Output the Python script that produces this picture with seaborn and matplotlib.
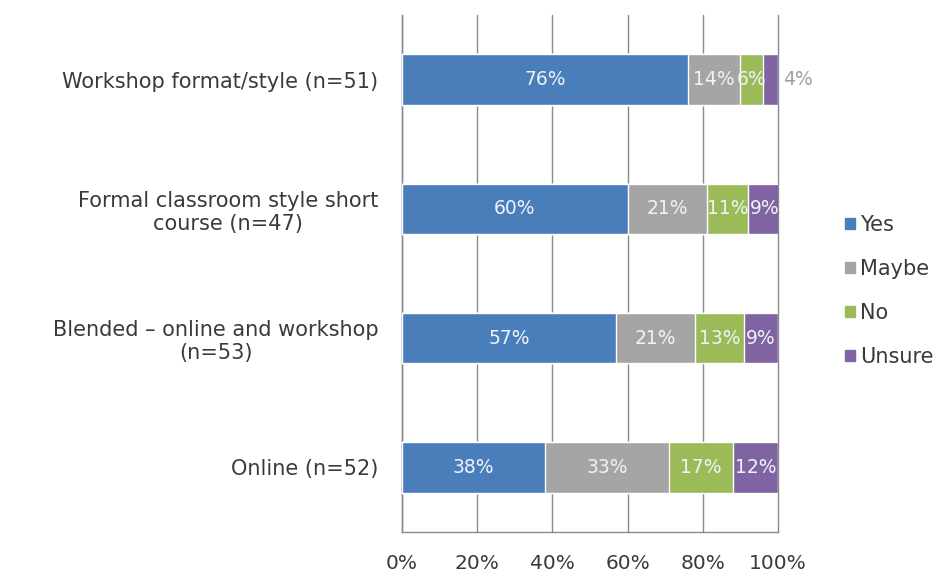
import matplotlib
matplotlib.use("Agg")
import matplotlib.pyplot as plt
import matplotlib.patches as mpatches
import seaborn as sns
import pandas as pd
import numpy as np

# Survey responses: preferred training delivery formats
categories = [
    "Workshop format/style (n=51)",
    "Formal classroom style short\ncourse (n=47)",
    "Blended \u2013 online and workshop\n(n=53)",
    "Online (n=52)",
]
responses = ["Yes", "Maybe", "No", "Unsure"]
yes = [76, 60, 57, 38]
maybe = [14, 21, 21, 33]
no = [6, 11, 13, 17]
unsure = [4, 9, 9, 12]
x_ticks = [0, 20, 40, 60, 80, 100]
x_tick_labels = ["0%", "20%", "40%", "60%", "80%", "100%"]

colors = {"Yes": "#4A7EBB", "Maybe": "#A5A5A5", "No": "#9BBB59", "Unsure": "#8064A2"}
text_color = "#3A3A3A"

sns.set_theme(style="white")
plt.rcParams["font.family"] = ["DejaVu Sans"]

values = pd.DataFrame({"Yes": yes, "Maybe": maybe, "No": no, "Unsure": unsure},
                      index=categories)
cum = values.cumsum(axis=1)

fig = plt.figure(figsize=(9.51, 5.74), dpi=100)
ax = fig.add_axes([0.4227, 0.0732, 0.3955, 0.9008])

# Stacked bars: draw cumulative totals from the outermost segment inward
for resp in reversed(responses):
    df = pd.DataFrame({"category": categories, "total": cum[resp].values})
    sns.barplot(data=df, y="category", x="total", orient="h", order=categories,
                color=colors[resp], saturation=1, width=0.39,
                edgecolor="white", linewidth=1.0, ax=ax, zorder=3)

# Segment labels
for i, cat in enumerate(categories):
    start = 0
    for resp in responses:
        v = values.loc[cat, resp]
        if cat.startswith("Workshop") and resp == "Unsure":
            ax.text(start + v + 1.2, i, f"{v}%", ha="left", va="center",
                    fontsize=13.5, color="#A0A0A0", zorder=5, clip_on=False)
        else:
            ax.text(start + v / 2, i, f"{v}%", ha="center", va="center",
                    fontsize=13.5, color="#EEF3F8", zorder=5)
        start += v

ax.set_xlim(0, 100)
ax.set_ylim(3.5, -0.5)
ax.set_xticks(x_ticks)
ax.set_xticklabels(x_tick_labels, fontsize=14.5, color=text_color)
ax.tick_params(axis="x", length=6, width=1, color="#8A8A8A", direction="out", pad=10)
ax.tick_params(axis="y", length=0, pad=17, labelsize=15, labelcolor=text_color)
ax.set_yticks(range(len(categories)))
ax.set_yticklabels(categories, multialignment="center")
ax.set_yticks(np.arange(-0.5, 4.0, 1.0), minor=True)
ax.tick_params(axis="y", which="minor", length=8, width=1, color="#8A8A8A", direction="out")
ax.set_xlabel("")
ax.set_ylabel("")

ax.grid(axis="x", color="#8A8A8A", linewidth=1, zorder=0)
for gl in ax.get_xgridlines():
    gl.set_clip_on(False)
ax.set_axisbelow(True)
for side in ["top", "right"]:
    ax.spines[side].set_visible(False)
for side in ["left", "bottom"]:
    ax.spines[side].set_color("#8A8A8A")
    ax.spines[side].set_linewidth(1)

handles = [mpatches.Patch(color=colors[r], label=r) for r in responses]
leg = fig.legend(handles=handles, loc="center left", bbox_to_anchor=(0.880, 0.493),
                 frameon=False, fontsize=15, handlelength=0.45, handleheight=0.45,
                 handletextpad=0.25, labelspacing=1.15, borderaxespad=0)
for t in leg.get_texts():
    t.set_color(text_color)

fig.savefig("out.png", dpi=100, facecolor="white")
